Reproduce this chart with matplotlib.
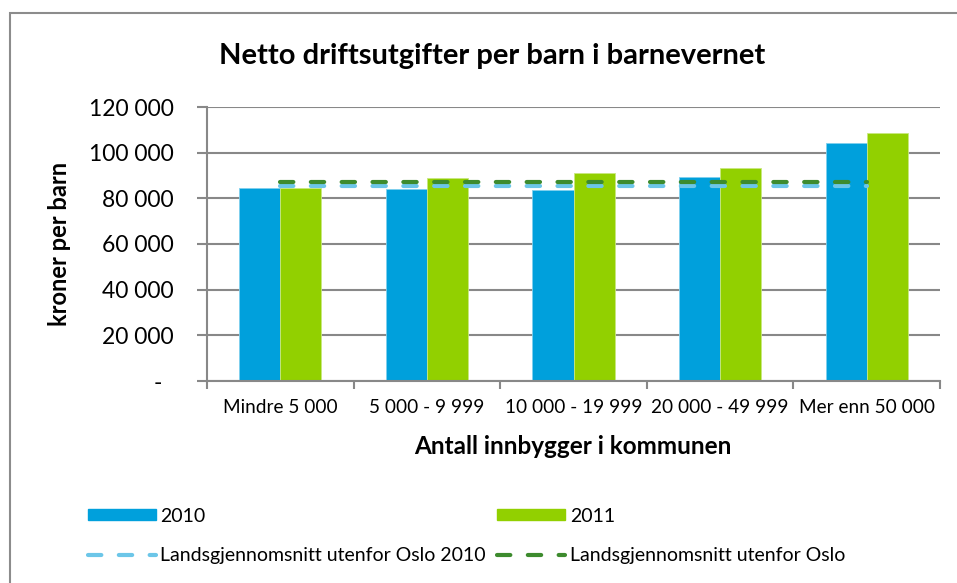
import matplotlib.pyplot as plt
import numpy as np
from matplotlib.lines import Line2D
from matplotlib.patches import Rectangle, Patch

plt.rcParams['font.family'] = ['Lato', 'DejaVu Sans']

# Données
kategorier = ["Mindre 5 000", "5 000 - 9 999", "10 000 - 19 999", "20 000 - 49 999", "Mer enn 50 000"]
verdier_2010 = [84700, 84000, 83700, 89400, 104100]
verdier_2011 = [84700, 88700, 91300, 93200, 108500]
snitt_2010 = [85400] * 5
snitt_2011 = [87300] * 5
y_ticks = [0, 20000, 40000, 60000, 80000, 100000, 120000]
y_tick_labels = ["-  ", "20 000", "40 000", "60 000", "80 000", "100 000", "120 000"]

blaa = "#00A0DC"
gronn = "#92D000"
lys_blaa = "#6CC6E8"
mork_gronn = "#3D8B2E"
graa = "#888888"

fig = plt.figure(figsize=(9.57, 5.83), dpi=100)
fig.patches.append(Rectangle((10 / 957, -0.1), 1.2, 1 - 13 / 583 + 0.1, transform=fig.transFigure,
                             fill=False, edgecolor="#8c8c8c", linewidth=1.5))

ax = fig.add_axes([207 / 957, 202 / 583, 733 / 957, 274 / 583])

x = np.arange(len(kategorier))
b = 0.28
ax.bar(x - b / 2, verdier_2010, width=b, color=blaa, edgecolor="#7fd0ee", linewidth=0.6, zorder=2)
ax.bar(x + b / 2, verdier_2011, width=b, color=gronn, edgecolor="#c8e87f", linewidth=0.6, zorder=2)

ax.plot(x, snitt_2010, color=lys_blaa, linewidth=3, linestyle=(0, (3.2, 4.2)),
        dash_capstyle="round", zorder=3)
ax.plot(x, snitt_2011, color=mork_gronn, linewidth=3, linestyle=(0, (3.2, 4.2)),
        dash_capstyle="round", zorder=3)

ax.set_xlim(-0.5, len(kategorier) - 0.5)
ax.set_ylim(0, 120000)
ax.set_yticks(y_ticks)
ax.set_yticklabels(y_tick_labels, fontsize=16.5)
ax.set_xticks(x)
ax.set_xticklabels(kategorier, fontsize=13.7)
ax.set_xticks(np.arange(len(kategorier) + 1) - 0.5, minor=True)
ax.tick_params(axis="x", which="major", length=0, pad=13)
ax.tick_params(axis="x", which="minor", length=6, width=1.5, color=graa)
ax.tick_params(axis="y", length=7, width=1.5, color=graa, pad=17)

ax.grid(axis="y", color=graa, linewidth=1.5, zorder=0)
ax.set_axisbelow(True)
for s in ["top", "right"]:
    ax.spines[s].set_visible(False)
for s in ["left", "bottom"]:
    ax.spines[s].set_color(graa)
    ax.spines[s].set_linewidth(1.5)

fig.text(492 / 957, 1 - 56 / 583, "Netto driftsutgifter per barn i barnevernet",
         ha="center", va="center", fontsize=21, fontweight="bold")
fig.text(573 / 957, 1 - 446 / 583, "Antall innbygger i kommunen",
         ha="center", va="center", fontsize=17.5, fontweight="bold")
fig.text(60 / 957, 1 - 244 / 583, "kroner per barn", rotation=90,
         ha="center", va="center", fontsize=17, fontweight="bold")

handles = [
    Patch(facecolor=blaa, edgecolor=blaa),
    Line2D([0], [0], color=lys_blaa, linewidth=3, linestyle=(0, (3.2, 4.2)), dash_capstyle="round"),
    Patch(facecolor=gronn, edgecolor=gronn),
    Line2D([0], [0], color=mork_gronn, linewidth=3, linestyle=(0, (3.2, 4.2)), dash_capstyle="round"),
]
labels = ["2010", "Landsgjennomsnitt utenfor Oslo 2010", "2011", "Landsgjennomsnitt utenfor Oslo"]
fig.legend(handles, labels, ncol=2, loc="upper left", bbox_to_anchor=(70 / 957, 1 - 490 / 583),
           frameon=False, fontsize=14, handlelength=3.5, handleheight=0.45, handletextpad=0.25,
           columnspacing=0.55, labelspacing=1.15)

fig.savefig("out.png", dpi=100)
